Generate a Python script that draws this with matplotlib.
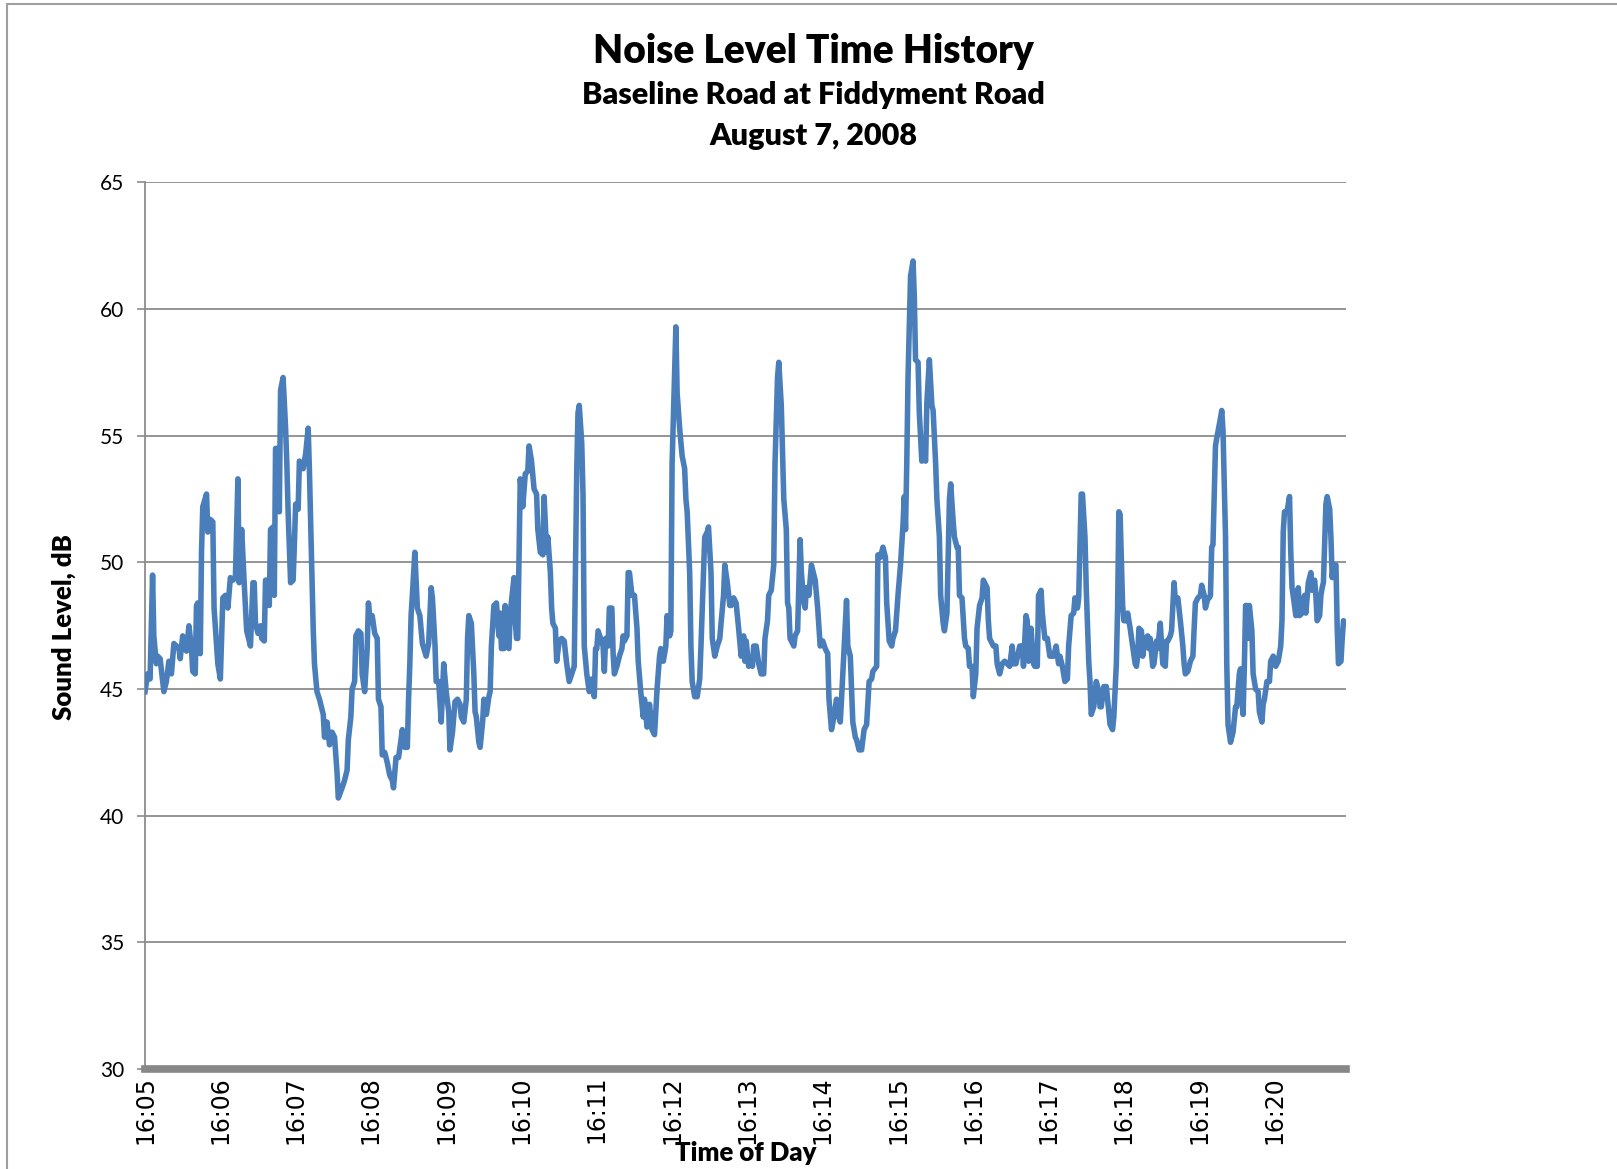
import matplotlib
matplotlib.use('Agg')
import matplotlib.pyplot as plt
from matplotlib.patches import Rectangle

# seconds after 16:05:00 and the sound level read at that second (dB)
seconds = [0, 2, 4, 6, 7, 9, 10, 12, 15, 17, 19, 21, 23, 27, 28, 30, 33, 35, 37, 38,
           40, 41, 42, 44, 45, 46, 49, 50, 52, 54, 55, 58, 60, 62, 64, 66, 68, 70, 72, 74,
           75, 77, 79, 81, 84, 86, 87, 88, 90, 92, 93, 95, 96, 98, 99, 100, 102, 103, 104, 106,
           107, 108, 110, 112, 113, 114, 116, 118, 119, 120, 122, 123, 126, 128, 130, 131, 134, 135, 137, 139,
           142, 143, 145, 147, 149, 151, 153, 154, 157, 159, 161, 162, 164, 165, 167, 168, 170, 172, 173, 175,
           177, 178, 179, 181, 183, 185, 186, 188, 189, 191, 193, 195, 197, 198, 200, 202, 204, 205, 207, 209,
           210, 211, 212, 213, 215, 217, 219, 221, 224, 226, 228, 229, 231, 232, 234, 236, 238, 240, 242, 243,
           245, 247, 249, 251, 252, 254, 256, 257, 258, 260, 262, 263, 264, 266, 267, 269, 270, 272, 274, 275,
           276, 278, 280, 282, 283, 284, 286, 287, 288, 290, 291, 294, 295, 296, 297, 299, 301, 303, 305, 306,
           308, 310, 312, 313, 315, 317, 318, 320, 321, 323, 324, 325, 327, 328, 330, 332, 334, 336, 338, 340,
           342, 343, 344, 345, 346, 348, 349, 350, 352, 354, 356, 358, 359, 360, 361, 363, 365, 366, 367, 369,
           370, 372, 373, 374, 376, 378, 380, 381, 382, 384, 385, 386, 388, 390, 392, 393, 395, 397, 398, 400,
           402, 404, 406, 408, 410, 411, 413, 415, 416, 418, 419, 420, 423, 424, 426, 428, 430, 431, 432, 434,
           435, 436, 438, 440, 442, 443, 445, 446, 448, 449, 451, 452, 454, 456, 458, 459, 461, 462, 464, 466,
           467, 469, 471, 473, 475, 477, 478, 479, 481, 483, 484, 485, 487, 489, 491, 493, 494, 496, 497, 499,
           501, 502, 504, 505, 507, 509, 511, 512, 513, 514, 517, 518, 520, 522, 523, 525, 526, 527, 529, 531,
           534, 536, 538, 540, 542, 544, 545, 547, 549, 551, 553, 554, 555, 559, 560, 562, 564, 566, 567, 569,
           571, 573, 575, 577, 579, 580, 583, 584, 586, 588, 590, 591, 593, 595, 596, 598, 600, 602, 604, 605,
           606, 607, 608, 610, 612, 613, 614, 616, 617, 619, 621, 622, 623, 625, 627, 628, 630, 631, 633, 634,
           636, 637, 639, 641, 642, 644, 645, 647, 648, 649, 651, 653, 654, 656, 657, 659, 660, 662, 663, 665,
           667, 668, 671, 672, 673, 676, 678, 679, 681, 683, 685, 687, 689, 691, 692, 694, 697, 699, 700, 702,
           703, 704, 705, 706, 708, 709, 711, 712, 714, 715, 717, 719, 721, 724, 726, 728, 729, 731, 733, 735,
           736, 738, 740, 741, 743, 744, 746, 747, 749, 750, 752, 753, 754, 756, 758, 760, 761, 762, 764, 766,
           768, 769, 771, 772, 774, 775, 776, 777, 779, 780, 782, 783, 785, 787, 789, 790, 791, 792, 794, 795,
           797, 799, 800, 801, 803, 804, 806, 807, 809, 811, 813, 814, 815, 817, 818, 820, 821, 823, 825, 827,
           828, 829, 831, 833, 835, 836, 837, 839, 841, 842, 844, 845, 847, 848, 849, 850, 851, 853, 854, 857,
           858, 859, 861, 862, 863, 865, 867, 869, 870, 872, 873, 875, 876, 877, 878, 879, 880, 882, 883, 885,
           887, 888, 890, 891, 892, 894, 896, 897, 899, 901, 903, 905, 906, 907, 908, 910, 912, 913, 914, 916,
           917, 919, 920, 922, 924, 925, 927, 929, 930, 932, 933, 934, 936, 937, 938, 939, 941, 942, 944, 945,
           946, 947, 949, 950, 951, 953, 954, 955, 956, 957]
level = [44.9, 45.6, 45.4, 49.5, 47.1, 46.0, 46.3, 46.2, 44.9, 45.3, 46.1, 45.6, 46.8, 46.6, 46.2, 47.1, 46.5, 47.5, 46.6, 45.7,
         45.6, 48.3, 48.4, 46.4, 50.4, 52.2, 52.7, 51.2, 51.7, 51.6, 48.2, 46.0, 45.4, 48.6, 48.7, 48.2, 49.4, 49.3, 49.4, 53.3,
         49.2, 51.3, 49.2, 47.3, 46.7, 49.2, 49.2, 47.6, 47.2, 47.5, 47.0, 46.9, 49.3, 49.3, 48.3, 51.3, 51.4, 48.7, 54.5, 54.5,
         52.0, 56.8, 57.3, 55.3, 53.9, 52.0, 49.2, 49.3, 50.7, 52.3, 52.1, 54.0, 53.7, 54.3, 55.3, 53.6, 47.4, 46.0, 44.9, 44.6,
         44.0, 43.1, 43.7, 42.8, 43.3, 43.1, 41.7, 40.7, 41.1, 41.4, 41.8, 43.0, 43.9, 45.0, 45.3, 47.1, 47.3, 47.2, 45.6, 44.9,
         46.6, 48.4, 47.9, 47.9, 47.2, 47.0, 44.6, 44.3, 42.4, 42.5, 42.1, 41.6, 41.4, 41.1, 42.3, 42.3, 43.0, 43.4, 42.7, 42.7,
         44.6, 46.0, 47.9, 48.7, 50.4, 48.2, 47.9, 46.8, 46.3, 46.8, 49.0, 48.6, 46.8, 45.3, 45.3, 43.7, 46.0, 44.9, 44.1, 42.6,
         43.3, 44.5, 44.6, 44.4, 43.9, 43.7, 44.6, 47.0, 47.9, 47.6, 45.6, 44.1, 43.9, 42.9, 42.7, 43.7, 44.6, 44.0, 44.7, 44.9,
         46.7, 48.3, 48.4, 47.1, 48.0, 46.6, 46.6, 48.3, 46.7, 46.6, 48.0, 49.4, 47.7, 47.0, 47.0, 53.3, 52.2, 53.5, 53.6, 54.6,
         54.0, 52.9, 52.7, 51.3, 50.4, 50.3, 52.6, 50.4, 51.0, 49.6, 48.2, 47.6, 47.4, 46.1, 46.9, 47.0, 46.9, 46.0, 45.3, 45.6,
         45.9, 49.6, 53.6, 55.9, 56.2, 54.7, 52.7, 46.7, 45.6, 44.9, 45.4, 44.7, 46.6, 46.6, 47.3, 47.0, 46.7, 45.7, 47.0, 46.7,
         48.2, 48.2, 46.4, 45.6, 45.9, 46.3, 46.6, 47.1, 46.9, 47.1, 49.6, 49.6, 48.7, 48.7, 47.4, 46.1, 44.9, 43.9, 44.6, 43.5,
         44.4, 43.4, 43.2, 45.0, 46.3, 46.6, 46.1, 46.7, 47.9, 47.1, 47.3, 53.9, 59.3, 56.7, 55.3, 54.2, 53.7, 52.5, 52.0, 49.6,
         46.7, 45.3, 44.7, 44.7, 45.4, 46.7, 49.6, 51.0, 51.2, 51.4, 49.6, 47.0, 46.3, 46.7, 47.0, 47.6, 48.7, 49.9, 49.2, 48.3,
         48.3, 48.6, 48.4, 47.4, 46.3, 47.1, 46.1, 46.9, 45.9, 46.1, 45.9, 46.7, 46.7, 46.0, 45.6, 45.6, 47.0, 47.7, 48.7, 48.9,
         49.9, 53.9, 57.3, 57.9, 56.2, 52.5, 51.3, 48.4, 48.2, 47.0, 46.7, 47.1, 47.3, 50.9, 49.6, 48.4, 48.2, 49.0, 48.7, 49.9,
         49.3, 48.2, 46.7, 46.9, 46.6, 46.4, 44.6, 43.4, 43.9, 44.6, 43.9, 43.7, 44.6, 48.5, 46.7, 46.3, 43.7, 43.1, 43.0, 42.6,
         42.6, 43.4, 43.6, 45.3, 45.4, 45.7, 45.9, 50.3, 50.2, 50.6, 50.2, 48.4, 46.9, 46.7, 47.0, 47.3, 48.7, 49.9, 51.5, 52.6,
         51.3, 53.9, 57.3, 61.3, 61.9, 60.5, 58.0, 57.9, 55.9, 54.0, 54.2, 54.0, 56.3, 58.0, 56.2, 56.0, 53.9, 52.5, 51.0, 48.7,
         47.6, 47.3, 48.0, 52.5, 53.1, 51.6, 51.0, 50.6, 50.6, 48.7, 48.6, 47.0, 46.7, 46.6, 45.9, 45.9, 44.7, 45.6, 47.4, 48.3,
         48.6, 49.3, 49.0, 47.7, 47.0, 46.7, 46.7, 46.0, 45.6, 46.0, 46.1, 46.0, 45.9, 46.7, 46.0, 46.0, 46.7, 46.7, 45.9, 47.9,
         47.7, 46.1, 47.0, 47.4, 46.0, 45.9, 45.9, 48.7, 48.9, 48.0, 47.0, 47.0, 46.3, 46.3, 46.7, 46.0, 46.3, 45.9, 45.3, 45.4,
         46.7, 47.9, 48.0, 48.6, 48.2, 48.6, 52.7, 52.7, 51.0, 49.0, 46.1, 45.3, 44.0, 44.3, 45.3, 44.9, 44.3, 44.3, 45.1, 45.1,
         44.1, 43.6, 43.4, 43.9, 46.0, 48.2, 52.0, 51.9, 48.3, 47.7, 47.7, 48.0, 47.4, 46.7, 46.0, 45.9, 46.3, 47.4, 47.3, 46.3,
         47.0, 47.1, 46.6, 47.0, 45.9, 46.0, 46.9, 46.6, 47.6, 46.0, 45.9, 46.9, 46.9, 47.1, 47.3, 49.2, 48.5, 48.6, 47.7, 46.7,
         46.0, 45.6, 45.7, 46.1, 46.3, 47.4, 48.4, 48.6, 48.7, 49.1, 48.7, 48.2, 48.6, 48.6, 48.7, 50.6, 50.7, 54.6, 54.9, 55.7,
         56.0, 55.2, 51.0, 46.0, 43.6, 42.9, 43.3, 44.3, 44.3, 45.6, 45.8, 44.0, 45.9, 48.3, 48.3, 47.0, 48.3, 47.3, 45.6, 45.0,
         44.9, 44.1, 43.7, 44.4, 44.6, 45.3, 45.3, 46.1, 46.3, 45.9, 46.1, 46.7, 47.7, 51.2, 52.0, 52.0, 52.6, 50.4, 49.0, 48.3,
         47.9, 49.0, 47.9, 48.0, 48.7, 48.0, 49.2, 49.6, 48.9, 49.3, 48.7, 47.7, 47.9, 48.7, 49.0, 49.2, 52.3, 52.6, 52.1, 51.0,
         49.4, 49.9, 49.9, 47.4, 46.0, 46.1, 47.0, 47.7, 47.6, 47.6]

tick_seconds = [0, 60, 120, 180, 240, 300, 360, 420, 480, 540, 600, 660, 720, 780, 840, 900]
tick_labels = ['16:05', '16:06', '16:07', '16:08', '16:09', '16:10', '16:11', '16:12',
               '16:13', '16:14', '16:15', '16:16', '16:17', '16:18', '16:19', '16:20']

plt.rcParams['font.family'] = ['Lato', 'DejaVu Sans']

fig = plt.figure(figsize=(16.17, 11.69), dpi=100)
ax = fig.add_axes([0.0897, 0.0855, 0.7427, 0.7584])

# light grey chart border (left and top edges only show)
fig.patches.append(Rectangle((0.0045, -0.05), 1.2, 1.047, transform=fig.transFigure,
                             fill=False, edgecolor='#a0a0a0', linewidth=1.5))

ax.plot(seconds, level, color='#4a7ebb', linewidth=4, solid_joinstyle='round', zorder=3)

ax.set_xlim(0, 957)
ax.set_ylim(30, 65)
ax.set_yticks([30, 35, 40, 45, 50, 55, 60, 65])
ax.yaxis.grid(True, color='#8c8c8c', linewidth=1.3)
ax.set_axisbelow(True)

ax.set_xticks(tick_seconds)
ax.set_xticklabels(tick_labels, rotation=90, fontfamily='DejaVu Sans', fontsize=17)
ax.tick_params(axis='x', length=0, pad=5)
ax.tick_params(axis='y', length=6, width=1.2, color='#8c8c8c', labelsize=15, pad=9)

for side in ['top', 'right']:
    ax.spines[side].set_visible(False)
ax.spines['left'].set_color('#8c8c8c')
ax.spines['left'].set_linewidth(1.3)
ax.spines['bottom'].set_color('#878787')
ax.spines['bottom'].set_linewidth(5.5)

fig.text(0.0396, 0.4637, 'Sound Level, dB', rotation=90, ha='center', va='center',
         fontsize=18.5, fontweight='heavy')
fig.text(0.461, 0.0137, 'Time of Day', ha='center', va='center', fontsize=18.5, fontweight='heavy')

fig.text(0.503, 0.956, 'Noise Level Time History', ha='center', va='center',
         fontsize=28, fontweight='heavy')
fig.text(0.503, 0.919, 'Baseline Road at Fiddyment Road', ha='center', va='center',
         fontsize=22, fontweight='heavy')
fig.text(0.503, 0.884, 'August 7, 2008', ha='center', va='center',
         fontsize=22, fontweight='heavy')

fig.savefig('out.png', dpi=100)
